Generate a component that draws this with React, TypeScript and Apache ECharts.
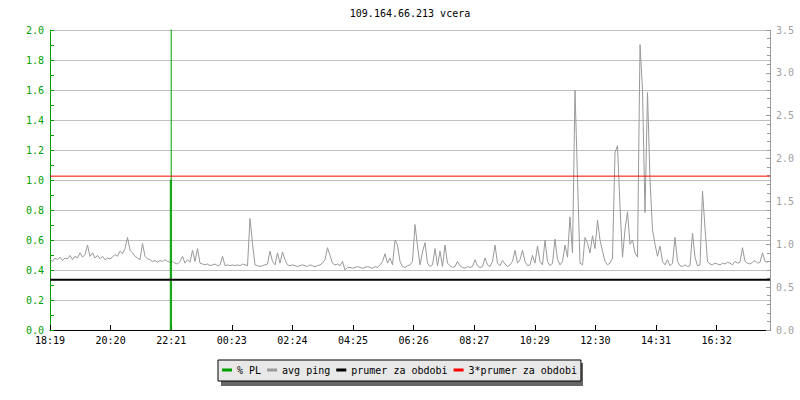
import React, { useEffect, useRef } from "react";
import * as echarts from "echarts";

// time axis: minutes after 18:19, one sample every 5 minutes
const startMinutes = 18 * 60 + 19;
const spanMinutes = 1440;
const tickInterval = 121.2;
const stepMinutes = 5;

// avg ping (right axis units)
const avgPing = [
  0.83, 0.8, 0.84, 0.82, 0.85, 0.81, 0.84, 0.83, 0.87, 0.82, 0.86, 0.84, 0.9, 0.85, 0.88, 0.99, 0.86, 0.9, 0.84, 0.87, 0.83, 0.86, 0.82, 0.84,
  0.83, 0.85, 0.88, 0.86, 0.92, 0.89, 0.95, 1.08, 0.93, 0.9, 0.86, 0.84, 0.82, 1.01, 0.86, 0.83, 0.82, 0.8, 0.81, 0.79, 0.81, 0.8, 0.82, 0.8,
  0.79, 0.8, 0.78, 0.77, 0.8, 0.86, 0.78, 0.82, 0.79, 0.93, 0.8, 0.95, 0.78, 0.77, 0.76, 0.77, 0.75, 0.76, 0.77, 0.75, 0.76, 0.86, 0.75, 0.76,
  0.75, 0.76, 0.75, 0.76, 0.75, 0.77, 0.76, 0.75, 1.3, 1.01, 0.76, 0.75, 0.74, 0.75, 0.76, 0.77, 0.92, 0.8, 0.76, 0.9, 0.78, 0.91, 0.82, 0.76,
  0.75, 0.76, 0.75, 0.74, 0.75, 0.76, 0.75, 0.74, 0.76, 0.75, 0.74, 0.75, 0.76, 0.78, 0.82, 0.96, 0.87, 0.78, 0.76, 0.77, 0.75, 0.8, 0.7, 0.73,
  0.73, 0.72, 0.73, 0.74, 0.73, 0.72, 0.73, 0.74, 0.73, 0.72, 0.74, 0.73, 0.76, 0.8, 0.89, 0.78, 0.84, 0.76, 1.05, 0.99, 0.8, 0.74, 0.73, 0.75,
  0.76, 0.8, 1.23, 0.98, 0.76, 0.91, 1.02, 0.78, 0.74, 0.76, 0.95, 0.75, 0.92, 0.74, 0.99, 0.78, 0.75, 0.73, 0.74, 0.8, 0.75, 0.73, 0.72, 0.74,
  0.73, 0.74, 0.82, 0.75, 0.73, 0.74, 0.84, 0.76, 0.74, 0.8, 0.99, 0.78, 0.75, 0.81, 0.77, 0.74, 0.76, 0.8, 0.93, 0.78, 0.82, 0.93, 0.8, 0.75,
  0.76, 0.87, 0.78, 0.98, 0.8, 0.76, 1.05, 0.8, 0.75, 0.78, 1.06, 0.82, 0.76, 0.8, 0.99, 0.85, 1.32, 0.9, 2.8, 1.77, 0.78, 0.76, 1.08, 1.01,
  0.9, 1.1, 0.95, 1.28, 1.05, 0.92, 0.8, 0.76, 0.78, 0.84, 2.07, 2.15, 1.44, 0.85, 1.17, 1.38, 1.0, 1.05, 0.9, 0.85, 3.33, 2.8, 1.37, 2.77,
  1.75, 1.17, 1.0, 0.86, 0.98, 0.8, 0.76, 0.82, 0.75, 0.78, 1.08, 0.8, 0.75, 0.74, 0.76, 0.74, 0.75, 1.13, 0.85, 0.75, 0.76, 1.62, 1.19, 0.8,
  0.77, 0.76, 0.78, 0.77, 0.76, 0.78, 0.77, 0.79, 0.78, 0.76, 0.8, 0.78, 0.79, 0.96, 0.8, 0.78, 0.77, 0.79, 0.81, 0.78, 0.79, 0.9, 0.8, 0.79,
];

// % PL (left axis units)
const plMinutes = [240.6, 240.6, 242.4, 242.4, 242.4];
const plValues = [0, 1.0, 1.0, 0, 4.0];

// averages (right axis units)
const prumer = 0.585;
const prumer3 = 1.795;

const titleText = "109.164.66.213 vcera";
const legendNames = ["% PL", "avg ping", "prumer za obdobi", "3*prumer za obdobi"];

const FONT = "DejaVu Sans Mono";
const GREEN = "#00a000";
const GRAY = "#999999";

function fmtTime(v: number) {
  const m = Math.round(startMinutes + v) % 1440;
  const h = Math.floor(m / 60);
  const mm = m % 60;
  return String(h).padStart(2, "0") + ":" + String(mm).padStart(2, "0");
}

export default function App() {
  const ref = useRef<HTMLDivElement>(null);
  useEffect(() => {
    if (!ref.current) return;
    const chart = echarts.init(ref.current, null, { renderer: "svg" });
    const pingData = avgPing.map((v, i) => [i * stepMinutes, v]);
    const plData = plMinutes.map((m, i) => [m, plValues[i]]);
    chart.setOption({
      animation: false,
      backgroundColor: "#ffffff",
      textStyle: { fontFamily: FONT },
      graphic: [
        {
          type: "text",
          x: 410,
          y: 13,
          style: {
            text: titleText,
            fill: "#000",
            font: `10px '${FONT}'`,
            textAlign: "center",
            textVerticalAlign: "middle",
          },
        },
        {
          type: "rect",
          z: 0,
          shape: { x: 221, y: 363, width: 362, height: 23 },
          style: { fill: "#666666" },
        },
      ],
      legend: {
        left: 218,
        top: 360,
        orient: "horizontal",
        data: legendNames,
        icon: "rect",
        itemWidth: 10,
        itemHeight: 3,
        itemGap: 6,
        padding: [5, 4, 6, 4],
        backgroundColor: "#e8e8e8",
        borderColor: "#000",
        borderWidth: 1,
        borderRadius: 0,
        z: 5,
        textStyle: { fontFamily: FONT, fontSize: 10, color: "#000" },
      },
      grid: { left: 50, right: 30, top: 30, bottom: 70, containLabel: false },
      xAxis: {
        type: "value",
        min: 0,
        max: spanMinutes,
        interval: tickInterval,
        axisLine: { show: true, lineStyle: { color: "#000", width: 1 } },
        axisTick: { show: true, inside: true, length: 5, lineStyle: { color: "#000" } },
        axisLabel: {
          color: "#000",
          fontFamily: FONT,
          fontSize: 10,
          margin: 5,
          showMaxLabel: false,
          formatter: (v: number) => fmtTime(v),
        },
        splitLine: { show: false },
      },
      yAxis: [
        {
          type: "value",
          min: 0,
          max: 2,
          interval: 0.2,
          position: "left",
          axisLine: { show: true, lineStyle: { color: GREEN, width: 1 } },
          axisTick: { show: true, inside: true, length: 4, lineStyle: { color: GREEN } },
          minorTick: { show: true, splitNumber: 2, length: 4, lineStyle: { color: GREEN } },
          axisLabel: {
            color: GREEN,
            fontFamily: FONT,
            fontSize: 10,
            margin: 6,
            formatter: (v: number) => v.toFixed(1),
          },
          splitLine: { show: true, lineStyle: { color: "#c0c0c0", width: 1 } },
        },
        {
          type: "value",
          min: 0,
          max: 3.5,
          interval: 0.5,
          position: "right",
          axisLine: { show: true, lineStyle: { color: GRAY, width: 1 } },
          axisTick: { show: true, inside: true, length: 4, lineStyle: { color: GRAY } },
          minorTick: { show: true, splitNumber: 5, length: 3, lineStyle: { color: GRAY } },
          axisLabel: {
            color: "#a0a0a0",
            fontFamily: FONT,
            fontSize: 10,
            margin: 6,
            formatter: (v: number) => v.toFixed(1),
          },
          splitLine: { show: false },
        },
      ],
      series: [
        {
          name: "% PL",
          type: "line",
          yAxisIndex: 0,
          data: plData,
          showSymbol: false,
          symbol: "none",
          lineStyle: { color: GREEN, width: 1 },
          itemStyle: { color: GREEN },
          z: 3,
        },
        {
          name: "avg ping",
          type: "line",
          yAxisIndex: 1,
          data: pingData,
          showSymbol: false,
          symbol: "none",
          lineStyle: { color: GRAY, width: 1 },
          itemStyle: { color: GRAY },
          z: 2,
        },
        {
          name: "prumer za obdobi",
          type: "line",
          yAxisIndex: 1,
          data: [
            [0, prumer],
            [spanMinutes, prumer],
          ],
          showSymbol: false,
          symbol: "none",
          lineStyle: { color: "#000", width: 2 },
          itemStyle: { color: "#000" },
          z: 4,
        },
        {
          name: "3*prumer za obdobi",
          type: "line",
          yAxisIndex: 1,
          data: [
            [0, prumer3],
            [spanMinutes, prumer3],
          ],
          showSymbol: false,
          symbol: "none",
          lineStyle: { color: "#ff0000", width: 1 },
          itemStyle: { color: "#ff0000" },
          z: 4,
        },
      ],
    });
    return () => chart.dispose();
  }, []);
  return (
    <div
      ref={ref}
      style={{ position: "fixed", left: 0, top: 0, width: 800, height: 400 }}
    />
  );
}
